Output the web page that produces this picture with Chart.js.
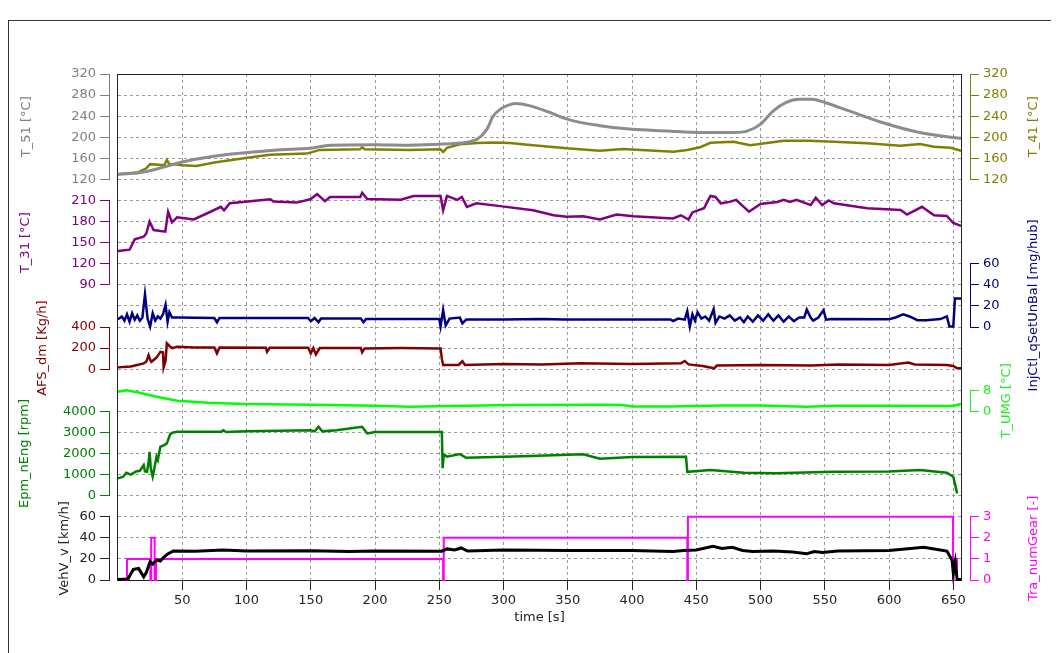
<!DOCTYPE html>
<html>
<head>
<meta charset="utf-8">
<script src="https://cdn.jsdelivr.net/npm/chart.js@4.4.1/dist/chart.umd.min.js"></script>
<style>
  html,body{margin:0;padding:0;background:#fff;}
  #wrap{position:relative;width:1062px;height:653px;overflow:hidden;}
  #frame{position:absolute;left:8px;top:20px;width:1042px;height:640px;border-left:1px solid #333;border-top:1px solid #333;}
  canvas{position:absolute;left:0;top:0;}
</style>
</head>
<body>
<div id="wrap">
  <div id="frame"></div>
  <canvas id="c" width="1062" height="653"></canvas>
</div>
<script>
/* measurement log, time axis 0..656 s, 9 channels on one stacked plot */

const FONT = 'DejaVu Sans';

// tick labels
const xTicks      = [50,100,150,200,250,300,350,400,450,500,550,600,650];
const t51Ticks    = [120,160,200,240,280,320];
const t41Ticks    = [120,160,200,240,280,320];
const t31Ticks    = [90,120,150,180,210];
const injTicks    = [0,20,40,60];
const afsTicks    = [0,200,400];
const umgTicks    = [0,8];
const nEngTicks   = [0,1000,2000,3000,4000];
const vehTicks    = [0,20,40,60];
const gearTicks   = [0,1,2,3];

// series  [time s, value]
const t51 = [[0,130],[10,131],[20,134],[35,143],[50,153],[72,163],[97,170],[124,176],[150,179],[165,185],[200,186],[227,185],[253,187],[270,190],[280,197],[287,215],[292,240],[298,254],[305,262],[310,264],[320,260],[335,248],[350,234],[375,222],[400,215],[427,212],[453,209],[479,209],[490,212],[500,225],[510,250],[520,266],[530,272],[540,272],[550,266],[570,249],[596,227],[622,210],[648,200],[656,198]];

const t41 = [[0,130],[15,133],[22,141],[25,149],[36,147],[38,157],[40,149],[42,149],[50,147],[61,145.5],[75,152],[98,160],[118,167],[147,169],[157,176],[188,177],[190,181],[192,177],[227,176],[251,177],[253,172],[256,180],[266,186.5],[280,189],[292,190],[305,189],[323,185],[349,179],[375,174.5],[393,177.7],[432,172.6],[443,175.8],[453,181],[461,189.6],[479,191.5],[492,185],[518,193.5],[538,193.5],[557,191.5],[583,188.5],[609,184],[624,187],[635,182],[648,180],[656,174.5]];

const t31 = [[0,138],[9,140],[13,154.7],[20,158.5],[22,163],[24.6,180],[27.7,168],[36.8,165.6],[39,194],[42,179],[46,186],[59,183],[72,194],[80,201],[82.5,196],[87,206],[118.5,211.7],[121,208.5],[139,207],[149.6,211.7],[155,219],[161,209],[165,215],[188.5,215],[190,221],[194,212],[220,211],[230,216.5],[251,216.5],[253,196],[256,216.5],[264,211],[267.6,215],[271.5,201],[279,206],[297.5,202],[323,196],[339,189],[349,187],[362,187.5],[375,183],[388,190],[401,187.5],[432,184.5],[438,189],[444,183],[447,193],[456,199],[461,216.5],[465,215],[469,206],[476,208],[481,211],[491,194],[500,205],[513,208],[518,211],[523,208],[528,211],[539,203.5],[543,214],[548,203.5],[553,210],[557,206],[583,199],[609,196.5],[614,190],[625.6,201],[635,189],[645,188],[650,178],[656,174]];

const injBal = [[0,7.3],[3,10],[5,6],[7,12],[9,5],[11,13],[13,7],[15,11],[17,6],[19,9],[21,31],[23,8],[25,0.5],[27,13],[29,6],[31,10],[33,8],[35,12],[37,21],[38.6,5],[40,14],[42,9],[46,9],[75,8.5],[77,4.5],[79,8.5],[148,8.5],[150,5.5],[153,8.5],[156,4.5],[158,8],[189,8],[191,4.5],[193,7.5],[250,7.5],[251,0.5],[253,16],[255,1.5],[258,8],[266,9],[268,3.5],[271,7],[300,7],[330,7.5],[347,7],[380,7.2],[430,7],[432,5.7],[436,8],[441,7],[443,15],[445,0.5],[447,12],[449,6],[451,14],[454,8],[457,10],[460,6],[463.5,17],[465,4],[468,10],[472,8],[476,11],[480,6],[484,9],[487,4.5],[490,10],[494,5],[498,11],[502,6],[506,12],[510,6],[514,11],[518,5],[522,10],[526,5.5],[530,9],[534,9],[536,16.5],[539,9],[541,6],[545,9],[549,16],[551,7],[555,7.5],[600,7.3],[605,9],[611,12],[616,10],[622,6.5],[629,6.5],[640,7.5],[645,10],[647,0.5],[650,0.5],[651.3,27],[656,27]];

const afsDm = [[0,17],[10,25],[20,55],[22,70],[23.8,134],[25,90],[26,70],[30,110],[33,165],[35,160],[35.5,17],[37,80],[38,245],[40,220],[42,200],[46,213],[60,205],[75,205],[77,150],[79,205],[115,203],[116,165],[118,203],[148,203],[150,150],[152,200],[154,140],[157,200],[189,200],[190,160],[192,197],[220,200],[251,197],[252,100],[253,40],[265,40],[268,75],[270,40],[300,50],[330,45],[360,55],[400,48],[438,55],[441,78],[444,45],[455,30],[464,8],[466,35],[500,40],[540,35],[560,45],[600,40],[615,62],[620,45],[645,40],[650,30],[653,8],[656,8]];

const tUmg = [[0,7.4],[6.5,8],[13,7.4],[20,6.7],[30,5.5],[46,4],[70,3.3],[98,2.8],[150,2.5],[200,2.1],[227,1.7],[260,2],[306,2.4],[380,2.5],[392,2.4],[400,1.8],[430,1.8],[470,2.2],[500,2.2],[520,1.9],[536,1.7],[560,2.1],[600,2.1],[636,2],[650,2],[656,2.8]];

const nEng = [[0,820],[4,900],[6.5,1085],[10,1000],[14,1150],[17,1180],[20,1450],[21,1150],[22.6,1135],[24,1700],[24.6,2083],[25.5,1300],[27,900],[28,1200],[30,1850],[31,1700],[33,2320],[36,2400],[38,2480],[40.7,2925],[43,3000],[46,3030],[80,3030],[82,3100],[84,3020],[100,3050],[150,3100],[153,3050],[156,3270],[159,3050],[170,3100],[190,3270],[194,2950],[200,3020],[252,3017],[252.6,1300],[253.5,1950],[256,1850],[266,1973],[271,1800],[300,1850],[321,1880],[362,1960],[375,1750],[400,1830],[442,1850],[443,1130],[461,1215],[487,1090],[512,1060],[557,1135],[600,1150],[624,1215],[645,1090],[650,900],[653,110]];

const vehV = [[0,0.5],[7.8,1],[10,6],[12,10],[16,11],[18,7],[20,3],[22,7],[24,14],[25,17.3],[27,15],[30,19],[33,18],[35.5,21.5],[39,25],[43,27.4],[60,27.3],[82,28.5],[100,27.5],[150,27.8],[180,27],[200,27.5],[252,27.3],[256,29.5],[262,28.5],[267,30.4],[272,27.5],[300,28.5],[350,28],[400,28],[432,27],[440,28],[450,28.5],[463,32],[470,30],[478,31],[486,28],[494,27],[510,27.5],[525,26.5],[536,25],[542,27],[548,26],[560,27.5],[600,28],[627,31],[640,28.5],[645,27.4],[649,19],[650,6.5],[651.5,17],[653,0.5],[656,0.5]];

const gear = [[0,0],[7,1],[25.2,0],[25.8,2],[28.5,0],[29.6,1],[253,0],[253.5,2],[443,0],[443.5,3],[649.8,0],[650.3,1],[652.9,0],[656,0]];

const pts = arr => arr.map(p => ({x:p[0], y:p[1]}));

// titles drawn on the right side (read bottom to top like the left ones)
const rightTitles = [
  {id:'yT41', text:'T_41 [°C]',                 color:'#808000', inset:16, dy:0},
  {id:'yInj', text:'InjCtl_qSetUnBal [mg/hub]', color:'#000080', inset:16, dy:10},
  {id:'yUmg', text:'T_UMG [°C]',                color:'#22ee22', inset:43, dy:0},
  {id:'yGear',text:'Tra_numGear [-]',           color:'#ff00ff', inset:16, dy:0},
];

function axis(o){
  const left = o.side === 'left';
  return {
    type:'linear', position:o.side, stack:left?'L':'R', stackWeight:o.rows, weight:o.w,
    min:o.ticks[0], max:o.ticks[o.ticks.length-1],
    afterBuildTicks: s => { s.ticks = o.ticks.map(v => ({value:v})); },
    afterFit: s => { s.width = left ? 92 : 80; },
    grid:{drawOnChartArea:false, drawTicks:true, tickLength:9, color:o.color, tickBorderDash:[10,0]},
    border:{display:true, color:o.color, width:1},
    ticks:{color:o.color, font:{family:FONT, size:13}, padding:4, autoSkip:false, callback:v => String(v)},
    title: left ? {display:true, text:o.title, color:o.color, font:{family:FONT, size:13}, padding:{top:o.pad, bottom:0}}
                : {display:false}
  };
}
function gap(side, rows, w){
  return {type:'linear', display:false, position:side, stack:side==='left'?'L':'R', stackWeight:rows, weight:w};
}

const scales = {
  x:{
    type:'linear', position:'bottom', min:0, max:656,
    afterBuildTicks: s => { s.ticks = xTicks.map(v => ({value:v})); },
    afterFit: s => { s.height = 45; },
    grid:{color:'#9a9a9a', borderDash:[3,3], tickColor:'#222', tickLength:10, tickBorderDash:[10,0]},
    border:{display:true, color:'#222', dash:[3,3]},
    ticks:{color:'#222', font:{family:FONT, size:13}, padding:3, maxRotation:0, autoSkip:false, callback:v => String(v)},
    title:{display:true, text:'time [s]', color:'#222', font:{family:FONT, size:13}, padding:{top:2, bottom:0}}
  },
  // left column, top to bottom (higher weight = higher up / further out)
  yT51: axis({side:'left', rows:5, w:9, ticks:t51Ticks, color:'#808080', title:'T_51 [°C]', pad:2}),
  gL1: gap('left',1,8),
  yT31: axis({side:'left', rows:4, w:7, ticks:t31Ticks, color:'#800080', title:'T_31 [°C]', pad:1}),
  gL2: gap('left',2,6),
  yAfs: axis({side:'left', rows:2, w:5, ticks:afsTicks, color:'#800000', title:'AFS_dm [Kg/h]', pad:18}),
  gL3: gap('left',2,4),
  yEng: axis({side:'left', rows:4, w:3, ticks:nEngTicks, color:'#008000', title:'Epm_nEng [rpm]', pad:0}),
  gL4: gap('left',1,2),
  yVeh: axis({side:'left', rows:3, w:1, ticks:vehTicks, color:'#222222', title:'VehV_v [km/h]', pad:40}),
  // inner spacer on the left carries the horizontal grid
  yGrid:{
    type:'linear', position:'left', weight:0, min:0, max:24,
    afterBuildTicks: s => { s.ticks = Array.from({length:25}, (_, i) => ({value:i})); },
    afterFit: s => { s.width = 9; },
    ticks:{display:false},
    grid:{color:'#9a9a9a', borderDash:[3,3], drawTicks:false},
    border:{display:false, dash:[3,3]}
  },
  // right column, top to bottom (lower weight = higher up)
  yGapR:{
    type:'linear', position:'right', weight:0,
    afterFit: s => { s.width = 9; },
    ticks:{display:false}, grid:{display:false}, border:{display:false}
  },
  yT41: axis({side:'right', rows:5, w:1, ticks:t41Ticks, color:'#808000'}),
  gR1: gap('right',4,2),
  yInj: axis({side:'right', rows:3, w:3, ticks:injTicks, color:'#000080'}),
  gR2: gap('right',3,4),
  yUmg: axis({side:'right', rows:1, w:5, ticks:umgTicks, color:'#22ee22'}),
  gR3: gap('right',5,6),
  yGear: axis({side:'right', rows:3, w:7, ticks:gearTicks, color:'#ff00ff'}),
};

function line(data, axisId, color, width, extra){
  return Object.assign({data:pts(data), xAxisID:'x', yAxisID:axisId, borderColor:color, backgroundColor:color,
    borderWidth:width, pointRadius:0, fill:false, tension:0, clip:false}, extra || {});
}

const framePlugin = {
  id:'frame',
  beforeDatasetsDraw(chart){
    const {ctx, chartArea:{left, top, right, bottom}} = chart;
    ctx.save();
    ctx.strokeStyle = '#222';
    ctx.lineWidth = 1;
    ctx.strokeRect(Math.round(left)-0.5, Math.round(top)+0.5, Math.round(right-left)+1, Math.round(bottom-top));
    ctx.restore();
  }
};

const rightTitlePlugin = {
  id:'rtitles',
  afterDraw(chart){
    const ctx = chart.ctx;
    rightTitles.forEach(r => {
      const s = chart.scales[r.id];
      ctx.save();
      ctx.translate(s.right - r.inset, (s.top + s.bottom) / 2 + r.dy);
      ctx.rotate(-Math.PI / 2);
      ctx.font = '13px "' + FONT + '"';
      ctx.fillStyle = r.color;
      ctx.textAlign = 'center';
      ctx.textBaseline = 'middle';
      ctx.fillText(r.text, 0, 0);
      ctx.restore();
    });
  }
};

new Chart(document.getElementById('c'), {
  type:'line',
  data:{datasets:[
    line(t51,   'yT51', '#8c8c8c', 3, {cubicInterpolationMode:'monotone'}),
    line(t41,   'yT41', '#808000', 2.5),
    line(t31,   'yT31', '#800080', 2.5),
    line(injBal,'yInj', '#000080', 2.5),
    line(afsDm, 'yAfs', '#800000', 2.5),
    line(tUmg,  'yUmg', '#00ff00', 2.5),
    line(nEng,  'yEng', '#008000', 2.5),
    line(vehV,  'yVeh', '#000000', 3),
    line(gear,  'yGear','#ff00ff', 2, {stepped:true}),
  ]},
  options:{
    responsive:false, devicePixelRatio:1, animation:false,
    layout:{padding:{left:17, right:12, top:74, bottom:28}},
    plugins:{legend:{display:false}, tooltip:{enabled:false}},
    scales
  },
  plugins:[framePlugin, rightTitlePlugin]
});
</script>
</body>
</html>
